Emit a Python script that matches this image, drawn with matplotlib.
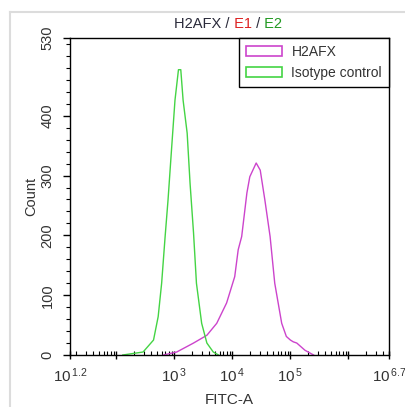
import numpy as np
import matplotlib
matplotlib.use("Agg")
import matplotlib.pyplot as plt
from matplotlib.patches import Patch
from matplotlib.lines import Line2D
from matplotlib.ticker import FixedLocator, LogLocator, NullFormatter

plt.rcParams['font.family'] = ['Liberation Sans', 'DejaVu Sans']
plt.rcParams['mathtext.fontset'] = 'custom'
plt.rcParams['mathtext.rm'] = 'Liberation Sans'
plt.rcParams['mathtext.it'] = 'Liberation Sans'

# histogram traces: log10(FITC-A) and count
h2afx_log = [2.81, 3.04, 3.33, 3.56, 3.73, 3.90, 4.04, 4.10, 4.16, 4.25, 4.30, 4.41,
             4.48, 4.56, 4.65, 4.73, 4.85, 4.93, 5.00, 5.05, 5.11, 5.25, 5.40]
h2afx_count = [0, 5, 20, 33, 53, 87, 131, 176, 198, 271, 298, 321,
               309, 259, 198, 120, 53, 31, 25, 22, 20, 8, 0]

iso_log = [2.11, 2.46, 2.64, 2.72, 2.78, 2.84, 2.89, 2.95, 3.01, 3.07, 3.11, 3.15,
           3.22, 3.27, 3.33, 3.38, 3.47, 3.56, 3.67, 3.76]
iso_count = [0, 5, 25, 64, 120, 198, 259, 343, 426, 477, 477, 426,
             371, 287, 204, 120, 53, 20, 5, 0]

x_major_exp = [1.2, 2, 3, 4, 5, 6, 6.7]
x_major_labels = ['$10^{\\,1.2}$', '', '$10^{\\,3}$', '$10^{\\,4}$', '$10^{\\,5}$', '', '$10^{\\,6.7}$']
y_major = [0, 100, 200, 300, 400, 530]
y_minor = list(range(0, 530, 20))

fig = plt.figure(figsize=(4.05, 4.07), dpi=100)
ax = fig.add_axes([70/405, 1-355/407, 319/405, 317/407])

ax.plot(10**np.array(h2afx_log), h2afx_count, color='#cc44cc', lw=1.0)
ax.plot(10**np.array(iso_log), iso_count, color='#44d444', lw=1.0)

ax.set_xscale('log')
ax.set_xlim(10**1.2, 10**6.7)
ax.set_ylim(0, 530)
ax.xaxis.set_major_locator(FixedLocator([10**e for e in x_major_exp]))
ax.set_xticklabels(x_major_labels)
ax.xaxis.set_minor_locator(LogLocator(base=10, subs=np.arange(2, 10)))
ax.xaxis.set_minor_formatter(NullFormatter())
ax.yaxis.set_major_locator(FixedLocator(y_major))
ax.yaxis.set_minor_locator(FixedLocator(y_minor))

ax.tick_params(axis='x', which='major', direction='inout', length=6, width=1, labelsize=11, pad=5,
               labelcolor='#333333')
ax.tick_params(axis='x', which='minor', direction='in', length=3, width=0.8)
ax.tick_params(axis='y', which='major', direction='out', length=5, width=1, labelsize=10.5,
               labelrotation=90, pad=6, labelcolor='#333333')
ax.tick_params(axis='y', which='minor', direction='out', length=3, width=0.8)
for lab in ax.get_yticklabels():
    lab.set_va('center')

for s in ax.spines.values():
    s.set_linewidth(1.0)

ax.set_xlabel('FITC-A', fontsize=11, color='#333333', labelpad=6)
ax.set_ylabel('Count', fontsize=10.5, color='#333333', labelpad=2)

handles = [Patch(facecolor='none', edgecolor='#cc44cc', lw=1.2),
           Patch(facecolor='none', edgecolor='#44d444', lw=1.2)]
leg = ax.legend(handles, ['H2AFX', 'Isotype control'], loc='upper right', borderaxespad=0,
                fancybox=False, edgecolor='black', framealpha=1, fontsize=10,
                handlelength=2.6, handleheight=0.8, borderpad=0.5, labelspacing=0.5,
                handletextpad=0.7)
leg.get_frame().set_linewidth(1.0)
for txt in leg.get_texts():
    txt.set_color('#333333')

# multicolour title
fs = 10.5
t1 = fig.text(174/405, 1-28/407, 'H2AFX /', fontsize=fs, color='#2a2a3a', ha='left', va='baseline')
t2 = fig.text(0, 0, ' E1', fontsize=fs, color='#dd2222', ha='left', va='baseline')
t3 = fig.text(0, 0, ' /', fontsize=fs, color='#2a2a3a', ha='left', va='baseline')
t4 = fig.text(0, 0, ' E2', fontsize=fs, color='#229922', ha='left', va='baseline')
fig.canvas.draw()
r = fig.canvas.get_renderer()
prev = t1
for t in (t2, t3, t4):
    bb = prev.get_window_extent(r)
    x0, y0 = prev.get_position()
    t.set_position((bb.x1 / fig.bbox.width, y0))
    fig.canvas.draw()
    prev = t

fig.add_artist(Line2D([10/405, 1], [1-12/407, 1-12/407], color='#dcdcdc', lw=1.5))
fig.add_artist(Line2D([10/405, 10/405], [0, 1-12/407], color='#dcdcdc', lw=1.5))

fig.savefig('out.png', dpi=100)
